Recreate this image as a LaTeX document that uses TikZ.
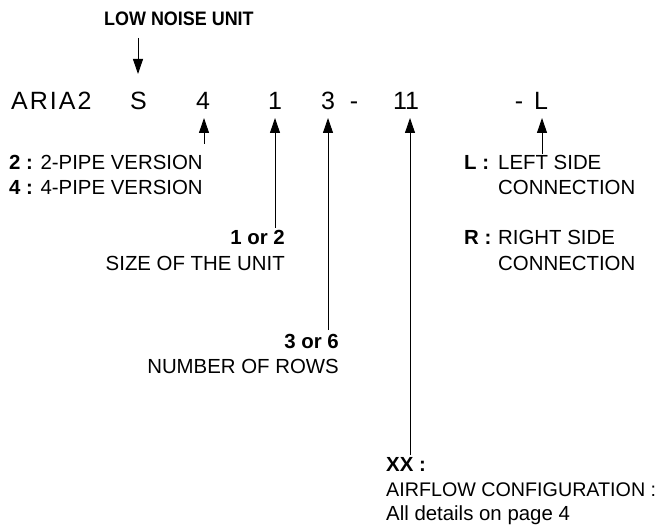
\documentclass[tikz,border=0pt]{standalone}
\usepackage{fontspec}
\setmainfont{Liberation Sans}
\usetikzlibrary{arrows.meta}
\tikzset{
  lbl/.style={inner sep=0pt, font=\fontsize{20.4bp}{24bp}\selectfont},
  codech/.style={inner sep=0pt, anchor=base, font=\fontsize{25bp}{28bp}\selectfont},
  arr/.style={-{Triangle[length=15bp,width=10bp]}, line width=0.9bp},
}
\begin{document}
\begin{tikzpicture}[x=1bp,y=-1bp]
\useasboundingbox (0,0) rectangle (665,531);
% title
\node[lbl, anchor=base west, font=\fontsize{19.5bp}{22bp}\selectfont\bfseries\addfontfeature{FakeStretch=0.92}] (low) at (104,26) {LOW NOISE UNIT};
% code row
\node[codech, anchor=base west, font=\fontsize{25bp}{28bp}\selectfont\addfontfeature{LetterSpace=8}] (aria) at (11,110) {ARIA2};
\node[codech] (cS) at (138.5,110) {S};
\node[codech] (c4) at (203,110) {4};
\node[codech] (c1) at (275,110) {1};
\node[codech] (c3) at (328,110) {3};
\node[codech] (cd1) at (354,110) {-};
\node[codech] (c11) at (406,110) {11};
\node[codech] (cd2) at (519,110) {-};
\node[codech] (cL) at (541,110) {L};
% arrow coordinates
\coordinate (sTop) at (138,38);
\coordinate (sTip) at (138,74);
\coordinate (t4) at (204,118);
\coordinate (e4) at (204,144);
\coordinate (t1) at (275,118);
\coordinate (e1) at (275,228);
\coordinate (t3) at (328,118);
\coordinate (e3) at (328,330);
\coordinate (t11) at (410,118);
\coordinate (e11) at (410,455);
\coordinate (tL) at (542,118);
\coordinate (eL) at (542,154);
\draw[arr] (sTop) -- (sTip);
\draw[arr] (e4) -- (t4);
\draw[arr] (e1) -- (t1);
\draw[arr] (e3) -- (t3);
\draw[arr] (e11) -- (t11);
\draw[arr] (eL) -- (tL);
% left labels
\node[lbl, anchor=base west] (two) at (9,170) {\textbf{2 :} 2-PIPE VERSION};
\node[lbl, anchor=base west] (four) at (9,195) {\textbf{4 :} 4-PIPE VERSION};
% right labels
\node[lbl, anchor=base west] (lk) at (464,170) {\textbf{L :}};
\node[lbl, anchor=base west] (lt) at (498,170) {LEFT SIDE};
\node[lbl, anchor=base west] (lc) at (498,195) {CONNECTION};
\node[lbl, anchor=base west] (rk) at (464,245) {\textbf{R :}};
\node[lbl, anchor=base west] (rt) at (498,245) {RIGHT SIDE};
\node[lbl, anchor=base west] (rc) at (498,270) {CONNECTION};
% size
\node[lbl, anchor=base east] (s12) at (285,245) {\textbf{1 or 2}};
\node[lbl, anchor=base east] (sz) at (285,270) {SIZE OF THE UNIT};
% rows
\node[lbl, anchor=base east] (r36) at (339,348) {\textbf{3 or 6}};
\node[lbl, anchor=base east] (nr) at (339,373) {NUMBER OF ROWS};
% airflow
\node[lbl, anchor=base west] (xx) at (386,471) {\textbf{XX :}};
\node[lbl, anchor=base west, font=\fontsize{19.7bp}{24bp}\selectfont] (af) at (386,496) {AIRFLOW CONFIGURATION :};
\node[lbl, anchor=base west] (ad) at (386,520) {All details on page 4};
\end{tikzpicture}
\end{document}
